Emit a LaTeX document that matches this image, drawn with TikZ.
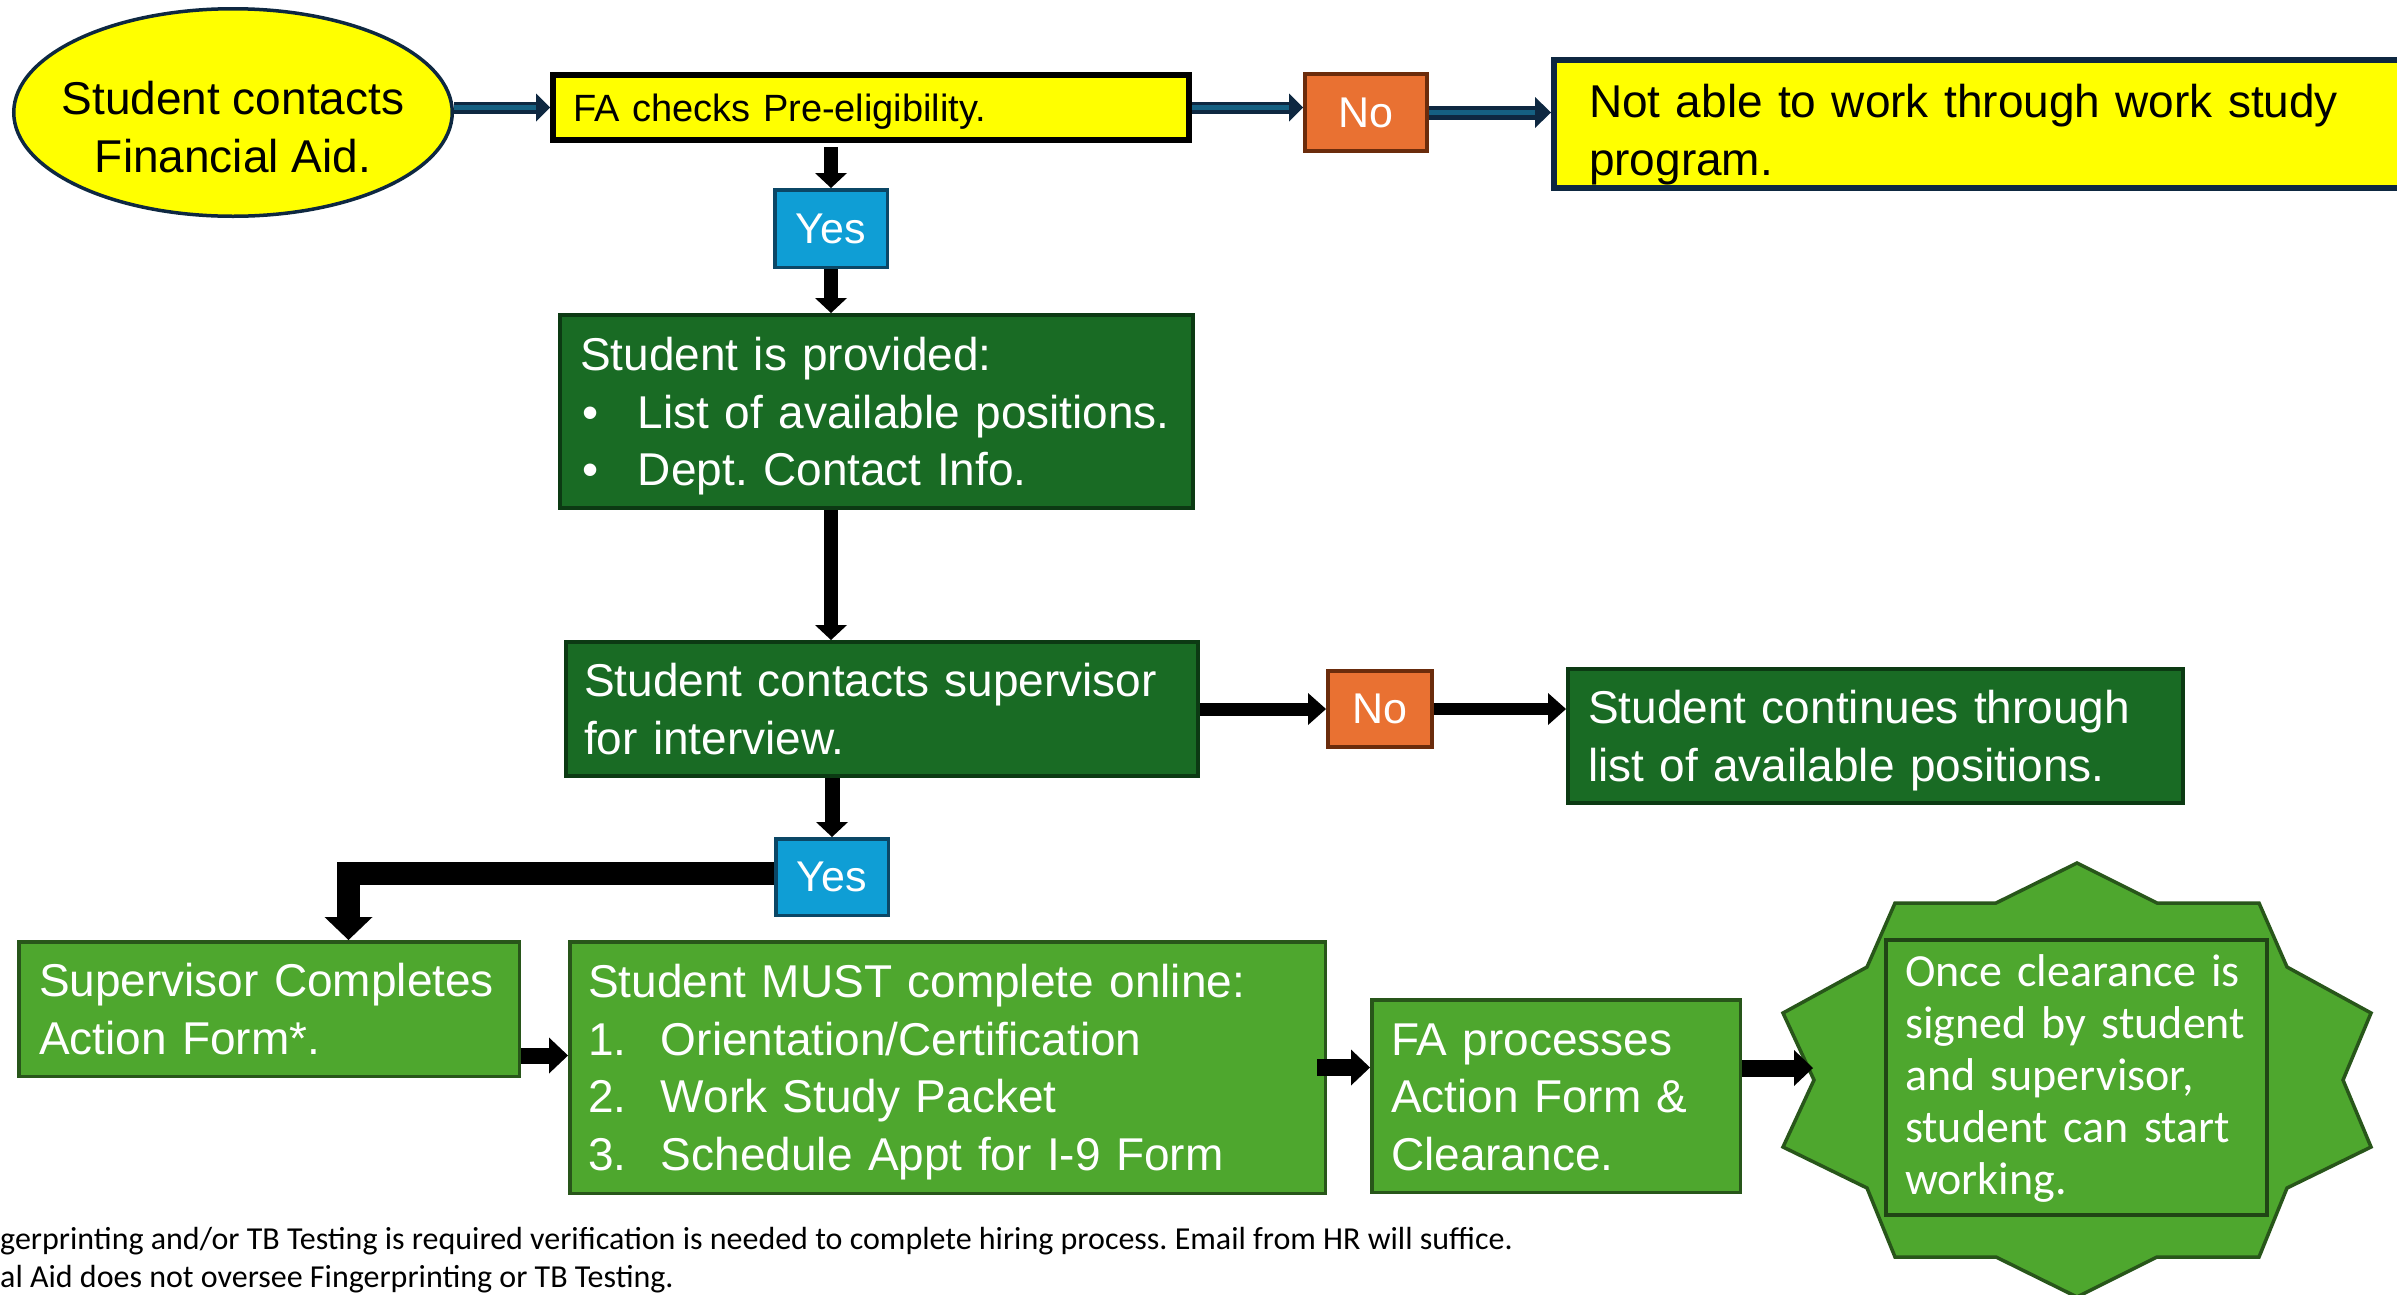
\documentclass[tikz,border=0pt]{standalone}
\usepackage{fontspec}
\setmainfont{Liberation Sans}
\newfontfamily\calf{Carlito}
\usetikzlibrary{arrows.meta,shapes.geometric}
\frenchspacing
\definecolor{yel}{HTML}{FFFF00}
\definecolor{navy}{HTML}{0E2841}
\definecolor{arrb}{HTML}{156082}
\definecolor{dkg}{HTML}{196B24}
\definecolor{dkgb}{HTML}{0C3A13}
\definecolor{ltg}{HTML}{4EA72E}
\definecolor{ltgb}{HTML}{28561A}
\definecolor{org}{HTML}{E97132}
\definecolor{orgb}{HTML}{6B2C0C}
\definecolor{yesb}{HTML}{0F9ED5}
\definecolor{yesbd}{HTML}{0B4766}
\newcommand\fM{\fontsize{46pt}{57.5pt}\selectfont}
\newcommand\fS{\calf\fontsize{46pt}{52pt}\selectfont}
\newcommand\La[1]{\mbox{\rule[-12.15pt]{0pt}{57.5pt}#1}}
\newcommand\Lb[1]{\mbox{\rule[-13pt]{0pt}{52pt}#1}}
\begin{document}
\frenchspacing
\begin{tikzpicture}[x=1pt,y=-1pt,
  box/.style={rectangle, inner ysep=0pt, align=left},
  dkbox/.style={box, fill=dkg, draw=dkgb, line width=4pt, text=white, font=\fM},
  ltbox/.style={box, fill=ltg, draw=ltgb, line width=3.5pt, text=white, font=\fM},
  yesbox/.style={rectangle, inner sep=0pt, fill=yesb, draw=yesbd, line width=3.5pt, text=white, font=\fontsize{43pt}{50pt}\selectfont},
  nobox/.style={rectangle, inner sep=0pt, fill=org, draw=orgb, line width=4pt, text=white, font=\fontsize{43pt}{50pt}\selectfont},
  blk/.style={line width=14pt, -{Triangle[length=15pt,width=32pt,line width=0pt]}},
  blkh/.style={line width=13pt, -{Triangle[length=18pt,width=32pt,line width=0pt]}},
  blkb/.style={line width=17pt, -{Triangle[length=19pt,width=36pt,line width=0pt]}},
  elb/.style={line width=23pt, line join=miter, -{Triangle[length=23pt,width=48pt,line width=0pt]}},
  bluo/.style={draw=navy, line width=12pt, -{Triangle[length=14pt,width=28pt,line width=0pt]}},
  blui/.style={draw=arrb, line width=5pt, shorten >=14pt},
  fnote/.style={inner sep=0pt, anchor=base west, font=\calf\fontsize{32pt}{38pt}\selectfont}
]
\useasboundingbox (0,0) rectangle (2397,1294);
\clip (0,0) rectangle (2397,1294);
\fill[white] (0,0) rectangle (2397,1294);

% top row
\node[ellipse, fill=yel, draw=navy, line width=3.5pt, inner sep=0pt,
      minimum width=438.5pt, minimum height=207.5pt] (ell) at (233,112.5) {};
\node[inner sep=0pt, align=center, font=\fM] (elltxt) at (233,127)
  {\La{Student contacts}\\\La{Financial Aid.}};
\node[box, fill=yel, draw=black, line width=6pt, font=\fontsize{38pt}{45pt}\selectfont,
      minimum width=636pt, minimum height=65pt, text width=596pt, inner xsep=20pt]
  (fa) at (871,107.5) {\mbox{\rule[-11.4pt]{0pt}{50pt}FA checks Pre-eligibility.}};
\node[nobox, minimum width=122pt, minimum height=77pt] (no1) at (1366,112.5) {No};
\node[box, fill=yel, draw=navy, line width=6pt, font=\fM,
      minimum width=893pt, minimum height=123pt, text width=823pt, inner xsep=35pt]
  (na) at (2000.5,123.5)
  {\mbox{\rule[-12.15pt]{0pt}{70.5pt}Not able to work through work study}\\\La{program.}};
\node[yesbox, minimum width=112.5pt, minimum height=77.5pt] (yes1) at (831,228.5) {Yes};

% provided box
\node[dkbox, minimum width=633pt, minimum height=193pt, text width=593pt, inner xsep=20pt]
  (g1) at (876.5,411.5)
  {\La{Student is provided:}\\
   \La{\makebox[58pt][l]{\hspace*{2pt}•}List of available positions.}\\
   \La{\makebox[58pt][l]{\hspace*{2pt}•}Dept. Contact Info.}};

% interview row
\node[dkbox, minimum width=632pt, minimum height=134pt, text width=596pt, inner xsep=18pt]
  (b2) at (882,709) {\La{Student contacts supervisor}\\\La{for interview.}};
\node[nobox, minimum width=104pt, minimum height=76pt] (no2) at (1380,709) {No};
\node[dkbox, minimum width=615pt, minimum height=134pt, text width=575pt, inner xsep=20pt]
  (b3) at (1875.5,736) {\La{Student continues through}\\\La{list of available positions.}};
\node[yesbox, minimum width=112.5pt, minimum height=76.5pt] (yes2) at (832,877) {Yes};

% bottom row
\node[ltbox, minimum width=500.5pt, minimum height=134.5pt, text width=460pt, inner xsep=20.25pt]
  (sup) at (269,1009) {\La{Supervisor Completes}\\\La{Action Form*.}};
\node[ltbox, minimum width=755.5pt, minimum height=251.5pt, text width=719pt, inner xsep=18.25pt]
  (must) at (947.5,1067.5)
  {\La{Student MUST complete online:}\\
   \La{\makebox[73pt][l]{1.}Orientation/Certification}\\
   \La{\makebox[73pt][l]{2.}Work Study Packet}\\
   \La{\makebox[73pt][l]{3.}Schedule Appt for I-9 Form}};
\node[ltbox, minimum width=368.5pt, minimum height=192.5pt, text width=330pt, inner xsep=19.25pt]
  (fap) at (1556,1096) {\La{FA processes}\\\La{Action Form \&}\\\La{Clearance.}};

% star
\draw[fill=ltg, draw=ltgb, line width=3.5pt, line join=miter]
  (2077,863) -- (2157,903) -- (2259,903) -- (2287,967) -- (2371,1013) -- (2343,1080)
  -- (2371,1147) -- (2287,1188) -- (2259,1257) -- (2157,1257) -- (2077,1297)
  -- (1996,1257) -- (1895,1257) -- (1867,1188) -- (1783,1147) -- (1814,1080)
  -- (1783,1013) -- (1867,967) -- (1895,903) -- (1996,903) -- cycle;
\node[box, fill=ltg, draw=ltgb!80!black, line width=4pt, text=white, font=\fS,
      minimum width=381pt, minimum height=275pt, text width=343pt, inner xsep=19pt]
  (clr) at (2076.5,1077.5)
  {\Lb{Once clearance is}\\\Lb{signed by student}\\\Lb{and supervisor,}\\\Lb{student can start}\\\Lb{working.}};
\coordinate (starL) at (1813,1068);

% connectors
\draw[bluo] (ell.east |- fa.west) -- (fa.west);
\draw[blui] (ell.east |- fa.west) -- (fa.west);
\draw[bluo] (fa.east) -- (fa.east -| no1.west);
\draw[blui] (fa.east) -- (fa.east -| no1.west);
\draw[bluo, line width=14pt, -{Triangle[length=16pt,width=31pt,line width=0pt]}] (no1.east) -- (no1.east -| na.west);
\draw[blui, shorten >=16pt] (no1.east) -- (no1.east -| na.west);

\draw[blk, shorten <=4pt] (yes1.north |- fa.south) -- (yes1.north);
\draw[blk] (yes1.south) -- (yes1.south |- g1.north);
\draw[blk] (yes1.south |- g1.south) -- (yes1.south |- b2.north);
\draw[blk, line width=15pt] (yes2.north |- b2.south) -- (yes2.north);
\draw[blkh] (b2.east) -- (no2.west);
\draw[blkh, line width=12pt] (no2.east) -- (no2.east -| b3.west);

\coordinate (supin) at (348.5,940);
\draw[elb] ([yshift=4pt]yes2.west) -| (supin);
\coordinate (smy) at ([yshift=12pt]must.west);
\draw[blkb, line width=16pt] (sup.east |- smy) -- (smy);
\draw[blkb] ([xshift=-10pt]must.east) -- (must.east -| fap.west);
\draw[blkb] (fap.east |- starL) -- (starL);

% footnote
\node[fnote] (fn1) at (0,1249) {gerprinting and/or TB Testing is required verification is needed to complete hiring process. Email from HR will suffice.};
\node[fnote] (fn2) at (0,1287) {al Aid does not oversee Fingerprinting or TB Testing.};
\end{tikzpicture}
\end{document}
